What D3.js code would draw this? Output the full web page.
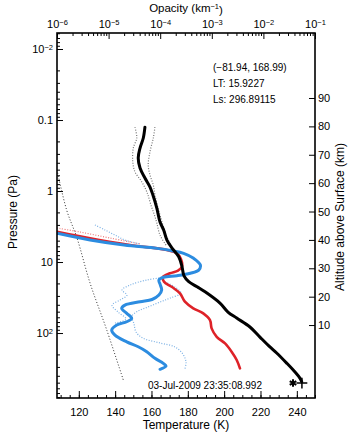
<!DOCTYPE html>
<html>
<head>
<meta charset="utf-8">
<script src="https://cdn.jsdelivr.net/npm/d3@7"></script>
<style>
  body { margin: 0; background: #fff; }
  svg { display: block; font-family: "Liberation Sans", Arial, sans-serif; }
</style>
</head>
<body>
<div id="chart"></div>
<script>
// profiles as [temperature (K), pressure (Pa)]
const blackProfile = [
  [156.4, 0.126], [155.5, 0.179], [153.7, 0.248], [152.7, 0.343], [153.7, 0.474],
  [156.4, 0.656], [159.2, 0.879], [160.8, 1.14], [162.9, 1.73], [164.7, 2.74],
  [166.7, 3.54], [168.5, 4.90], [171.3, 6.35], [175.0, 8.41], [176.8, 11.6],
  [177.9, 15.7], [180.5, 18.9], [185.1, 22.3], [189.5, 26.2], [197.7, 37.8],
  [202.1, 50.6], [206.9, 61.5], [214.2, 82.2], [219.7, 114], [225.2, 157],
  [228.9, 191], [234.4, 265], [239.0, 354], [241.7, 431], [242.7, 485]
];
const blackLow = [
  [150.9, 0.126], [151.9, 0.179], [150.0, 0.248], [149.7, 0.386], [150.9, 0.535],
  [154.6, 0.740], [157.4, 1.02], [159.7, 1.57], [162.5, 2.56], [164.7, 4.17], [168.0, 5.77]
];
const blackHigh = [
  [161.9, 0.126], [161.0, 0.179], [159.2, 0.279], [158.2, 0.430], [159.2, 0.596],
  [161.0, 0.823], [161.9, 1.14], [163.6, 1.73], [165.8, 2.74], [168.0, 4.17], [170.7, 5.77]
];
const redProfile = [
  [108.0, 3.74], [126.2, 4.63], [148.2, 5.77], [168.5, 6.78], [174.0, 7.54],
  [176.2, 9.07], [176.8, 11.6], [174.6, 13.2], [170.2, 14.4], [166.3, 16.3],
  [166.9, 18.9], [171.3, 22.5], [175.7, 27.6], [178.4, 36.2], [183.0, 44.9],
  [188.5, 52.8], [192.2, 65.6], [193.1, 85.9], [195.9, 113], [200.5, 140],
  [204.1, 183], [206.9, 240], [208.7, 314]
];
const redUpper = [[108.0, 3.32], [120.7, 3.78], [137.2, 4.59], [153.7, 5.57]];
const blueProfile = [
  [108.0, 3.94], [126.2, 4.90], [144.9, 5.77], [163.0, 6.42], [171.3, 6.93],
  [177.7, 7.54], [183.2, 8.87], [186.9, 11.0], [186.0, 13.0], [181.4, 14.4],
  [174.0, 15.6], [166.7, 16.4], [164.1, 17.9], [164.9, 21.1], [165.6, 24.8],
  [164.1, 29.2], [160.3, 33.7], [153.7, 36.2], [145.4, 40.4], [143.6, 44.9],
  [146.4, 52.8], [149.1, 62.1], [146.4, 69.3], [140.9, 77.1], [138.1, 90.8],
  [139.9, 107], [146.4, 133], [152.7, 156], [157.4, 183], [161.9, 227],
  [166.5, 267], [168.0, 292], [164.7, 324]
];
const blueUpper = [[128.9, 3.01], [134.4, 3.54], [139.9, 4.17], [145.4, 4.90], [153.7, 5.57]];
const blueLow = [
  [168.5, 16.3], [157.5, 17.9], [148.2, 21.1], [143.8, 24.8], [146.5, 29.2],
  [142.7, 34.3], [138.3, 40.4], [141.6, 50.6], [146.0, 63.5], [139.9, 72.3]
];
const blueHigh = [
  [167.4, 19.1], [172.9, 22.5], [176.2, 27.4], [170.2, 32.2], [164.7, 36.6],
  [158.1, 43.0], [152.6, 49.0], [149.3, 57.7], [150.4, 74.7], [151.5, 96.8],
  [155.3, 118], [164.7, 138], [172.9, 157], [177.3, 198], [179.0, 256], [178.4, 321]
];
// CO2 condensation curve
const frostCurve = [[108.0, 0.506], [113.3, 1.85], [119.0, 4.59], [126.2, 19.8], [135.4, 90.8], [144.5, 459]];
const surfaceStar = [237.9, 506];
const surfacePlus = [242.8, 506];

// axes
const tempTicks = [120, 140, 160, 180, 200, 220, 240];
const opacityTicks = [1e-6, 1e-5, 1e-4, 1e-3, 1e-2, 1e-1];
const opacityLabels = ["10^-6", "10^-5", "10^-4", "10^-3", "10^-2", "10^-1"];
const pressureTicks = [0.01, 0.1, 1, 10, 100];
const pressureLabels = ["10^-2", "0.1", "1", "10", "10^2"];
const altTicks = [10, 20, 30, 40, 50, 60, 70, 80, 90];
const infoLines = ["(\u221281.94, 168.99)", "LT: 15.9227", "Ls: 296.89115"];
const dateLabel = "03-Jul-2009 23:35:08.992";

const width = 351, height = 432;
const box = { left: 57, right: 315, top: 33, bottom: 398 };

const svg = d3.select("#chart").append("svg")
  .attr("width", width)
  .attr("height", height);

const x = d3.scaleLinear().domain([108, 250]).range([box.left, box.right]);
const xTop = d3.scaleLog().domain([1e-6, 1e-1]).range([box.left, box.right]);
const y = d3.scaleLog().domain([0.00595, 822]).range([box.top, box.bottom]);
const yAlt = d3.scaleLinear().domain([-15.7, 112.9]).range([box.bottom, box.top]);

// minor tick values
const tempMinor = d3.range(110, 251, 5);
const opacityMinor = [];
for (let e = -6; e < -1; e++) for (let k = 2; k <= 9; k++) opacityMinor.push(k * Math.pow(10, e));
const pressureMinor = [];
for (let e = -3; e < 3; e++) for (let k = 2; k <= 9; k++) {
  const v = k * Math.pow(10, e);
  if (v > 0.00595 && v < 822) pressureMinor.push(v);
}

// superscript labels like 10^-2
function powLabel(sel, labels) {
  sel.selectAll(".tick text").each(function (d, i) {
    const t = d3.select(this).text("");
    const parts = labels[i].split("^");
    t.append("tspan").text(parts[0]);
    if (parts[1]) {
      t.append("tspan").attr("dy", "-0.45em").style("font-size", "7.5px")
        .text(parts[1].replace("-", "\u2212"));
    }
  });
}

const axisStyle = g => {
  g.select(".domain").remove();
  g.selectAll("line").attr("stroke", "#000").attr("stroke-width", 1);
  g.selectAll("text").attr("fill", "#000").style("font-size", "11px").style("font-family", null);
};

// bottom
svg.append("g").attr("transform", `translate(0,${box.bottom})`)
  .call(d3.axisBottom(x).tickValues(tempMinor).tickSize(-3).tickSizeOuter(0).tickFormat(""))
  .call(axisStyle);
svg.append("g").attr("transform", `translate(0,${box.bottom})`)
  .call(d3.axisBottom(x).tickValues(tempTicks).tickSize(-7).tickSizeOuter(0).tickPadding(10))
  .call(axisStyle);

// top
svg.append("g").attr("transform", `translate(0,${box.top})`)
  .call(d3.axisTop(xTop).tickValues(opacityMinor).tickSize(-3).tickSizeOuter(0).tickFormat(""))
  .call(axisStyle);
svg.append("g").attr("transform", `translate(0,${box.top})`)
  .call(d3.axisTop(xTop).tickValues(opacityTicks).tickSize(-6).tickSizeOuter(0).tickPadding(5))
  .call(axisStyle)
  .call(g => powLabel(g, opacityLabels));

// left
svg.append("g").attr("transform", `translate(${box.left},0)`)
  .call(d3.axisLeft(y).tickValues(pressureMinor).tickSize(-3).tickSizeOuter(0).tickFormat(""))
  .call(axisStyle);
svg.append("g").attr("transform", `translate(${box.left},0)`)
  .call(d3.axisLeft(y).tickValues(pressureTicks).tickSize(-6).tickSizeOuter(0).tickPadding(4))
  .call(axisStyle)
  .call(g => powLabel(g, pressureLabels));

// right
svg.append("g").attr("transform", `translate(${box.right},0)`)
  .call(d3.axisRight(yAlt).tickValues(altTicks).tickSize(-6).tickSizeOuter(0).tickPadding(3))
  .call(axisStyle);

// axis titles
const title = svg.append("text")
  .attr("x", 186).attr("y", 12)
  .attr("text-anchor", "middle")
  .style("font-size", "11.5px");
title.append("tspan").text("Opacity (km");
title.append("tspan").attr("dy", "-0.4em").style("font-size", "7.5px").text("\u22121");
title.append("tspan").attr("dy", "0.4em").text(")");

svg.append("text")
  .attr("x", 186).attr("y", 429)
  .attr("text-anchor", "middle")
  .style("font-size", "12px")
  .text("Temperature (K)");

svg.append("text")
  .attr("transform", "translate(17,212) rotate(-90)")
  .attr("text-anchor", "middle")
  .style("font-size", "12px")
  .text("Pressure (Pa)");

svg.append("text")
  .attr("transform", "translate(344,217) rotate(-90)")
  .attr("text-anchor", "middle")
  .style("font-size", "12px")
  .text("Altitude above Surface (km)");

// curves
svg.append("clipPath").attr("id", "plot-clip")
  .append("rect")
  .attr("x", box.left).attr("y", box.top)
  .attr("width", box.right - box.left).attr("height", box.bottom - box.top);

const plot = svg.append("g").attr("clip-path", "url(#plot-clip)");

const line = d3.line()
  .x(d => x(d[0]))
  .y(d => y(d[1]))
  .curve(d3.curveCatmullRom.alpha(0.5));

function drawLine(data, color, w, dash) {
  plot.append("path")
    .datum(data)
    .attr("d", line)
    .attr("fill", "none")
    .attr("stroke", color)
    .attr("stroke-width", w)
    .attr("stroke-linejoin", "round")
    .attr("stroke-linecap", dash ? "butt" : "round")
    .attr("stroke-dasharray", dash || null);
}

drawLine(frostCurve, "#333", 1, "1,2");
drawLine(blackLow, "#777", 1.2, "1,1.6");
drawLine(blackHigh, "#777", 1.2, "1,1.6");
drawLine(redUpper, "#e77", 1.2, "1,1.6");
drawLine(blueUpper, "#7ab0e4", 1.2, "1,1.6");
drawLine(blueLow, "#7ab0e4", 1.2, "1,1.6");
drawLine(blueHigh, "#7ab0e4", 1.2, "1,1.6");
drawLine(redProfile, "#de2228", 2.6);
drawLine(blueProfile, "#2c8ce0", 3);
drawLine(blackProfile, "#000", 3);

// surface markers
svg.append("path")
  .attr("transform", `translate(${x(surfaceStar[0])},${y(surfaceStar[1])})`)
  .attr("d", d3.symbol(d3.symbolAsterisk, 40)())
  .attr("fill", "none").attr("stroke", "#000").attr("stroke-width", 2);
svg.append("path")
  .attr("transform", `translate(${x(surfacePlus[0])},${y(surfacePlus[1])})`)
  .attr("d", d3.symbol(d3.symbolPlus, 40)())
  .attr("fill", "none").attr("stroke", "#000").attr("stroke-width", 1.5);

// annotations
svg.append("g").selectAll("text")
  .data(infoLines)
  .enter().append("text")
  .attr("x", 213)
  .attr("y", (d, i) => 71 + i * 16)
  .style("font-size", "10px")
  .text(d => d);

svg.append("text")
  .attr("x", 148).attr("y", 389)
  .style("font-size", "10px")
  .text(dateLabel);

// frame
svg.append("rect")
  .attr("x", box.left).attr("y", box.top)
  .attr("width", box.right - box.left).attr("height", box.bottom - box.top)
  .attr("fill", "none").attr("stroke", "#000").attr("stroke-width", 1.6);
</script>
</body>
</html>
